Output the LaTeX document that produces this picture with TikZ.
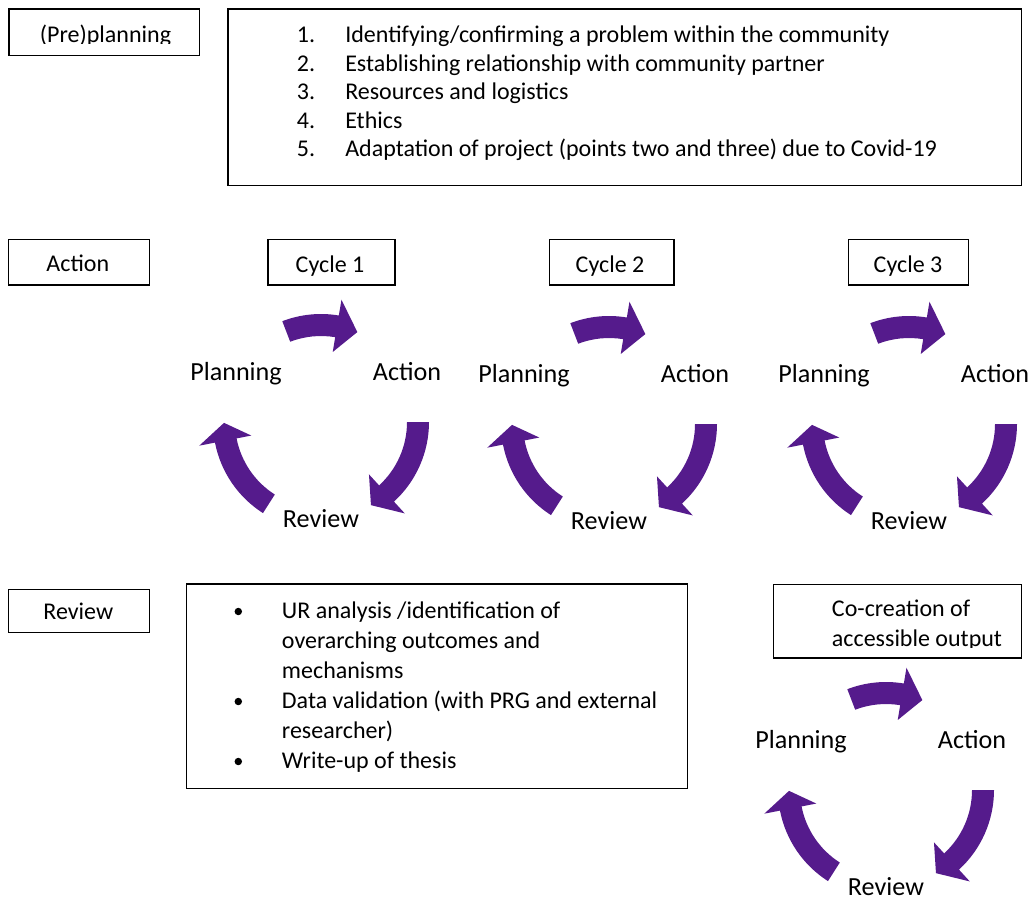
\documentclass[tikz,border=0pt]{standalone}
\usepackage{fontspec}
\setmainfont{Carlito}
\usetikzlibrary{calc}
\definecolor{cycpurple}{RGB}{85,27,140}
\newcommand\boxnode[5]{\node[box,anchor=north west,minimum width={(#4-#2)*0.75pt},minimum height={(#5-#3)*0.75pt}] (#1) at (#2,#3) {};}
\newcommand\cycarrow[4]{%
  \fill[cycfill] ($(#1)+(#2:108)$) arc[start angle=#2,end angle=#3,radius=108]
    -- ($(#1)+(#3:124)$) -- ($(#1)+(#4:97)$) -- ($(#1)+(#3:71)$) -- ($(#1)+(#3:86)$)
    arc[start angle=#3,end angle=#2,radius=86] -- cycle;}
\begin{document}
\begin{tikzpicture}[x=0.75pt,y=-0.75pt,
  box/.style={draw=black,line width=0.9pt,inner sep=0pt,fill=none},
  boxtxt/.style={font=\fontsize{18pt}{21.5pt}\selectfont,inner sep=0pt},
  lbl/.style={font=\fontsize{19.6pt}{23.5pt}\selectfont,inner sep=0pt,anchor=base west},
  bulletdot/.style={circle,fill=black,inner sep=0pt,minimum size=5.6pt},
  cycfill/.style={fill=cycpurple}]
\useasboundingbox (0,0) rectangle (1034,900);

% ---- boxes ----
\boxnode{prebox}{8.3}{8.3}{199}{54.5}
\boxnode{listbox}{227.3}{8.3}{1020.5}{185}
\boxnode{actbox}{8}{239}{148.7}{284.3}
\boxnode{cyc1box}{267.3}{239}{394.3}{284.3}
\boxnode{cyc2box}{548.7}{239}{673.3}{284.3}
\boxnode{cyc3box}{848}{239}{968}{284.3}
\boxnode{revbox}{8}{589}{148.7}{631.7}
\boxnode{bulbox}{186}{583.3}{686.7}{788}
\boxnode{cobox}{772.7}{584}{1020.7}{657.3}

% ---- box texts ----
\begin{scope}
  \clip (0,0) rectangle (220,43.8);
  \node[boxtxt,anchor=base] (pretxt) at (105.5,42.3) {(Pre)planning};
\end{scope}
\node[boxtxt,anchor=base] (acttxt) at (77.8,271.7) {Action};
\node[boxtxt,anchor=base] (cyc1txt) at (330,272.7) {Cycle 1};
\node[boxtxt,anchor=base] (cyc2txt) at (610,272.7) {Cycle 2};
\node[boxtxt,anchor=base] (cyc3txt) at (908,272.7) {Cycle 3};
\node[boxtxt,anchor=base] (revtxt) at (78.3,619) {Review};

% ---- numbered list ----
\foreach \i/\yy/\t in {1/42.5/{Identifying/confirming a problem within the community},
                        2/71/{Establishing relationship with community partner},
                        3/99.5/{Resources and logistics},
                        4/128/{Ethics},
                        5/156.5/{Adaptation of project (points two and three) due to Covid-19}}{
  \node[boxtxt,anchor=base west] (num\i) at (296.7,\yy) {\i.};
  \node[boxtxt,anchor=base west] (item\i) at (345,\yy) {\t};
}

% ---- bullet list ----
\node[bulletdot] (bul1) at (238.3,611.5) {};
\node[bulletdot] (bul2) at (238.3,701.5) {};
\node[bulletdot] (bul3) at (238.3,761.5) {};
\node[boxtxt,anchor=base west] (bl1) at (281.7,618.3) {UR analysis /identification of};
\node[boxtxt,anchor=base west] (bl2) at (281.7,648.3) {overarching outcomes and};
\node[boxtxt,anchor=base west] (bl3) at (281.7,678.3) {mechanisms};
\node[boxtxt,anchor=base west] (bl4) at (281.7,708.3) {Data validation (with PRG and external};
\node[boxtxt,anchor=base west] (bl5) at (281.7,738.3) {researcher)};
\node[boxtxt,anchor=base west] (bl6) at (281.7,768.3) {Write-up of thesis};

% ---- co-creation ----
\node[boxtxt,anchor=base west] (co1) at (831.7,616.7) {Co-creation of};
\begin{scope}
  \clip (780,600) rectangle (1020,647.5);
  \node[boxtxt,anchor=base west] (co2) at (831.7,646) {accessible output};
\end{scope}

% ---- cycles ----
\foreach \n/\cx/\cy in {1/321/422, 2/609/424, 3/909/424, 4/886/790}{
  \coordinate (c\n) at (\cx,\cy);
  \node[lbl] (plan\n) at ($(c\n)+(-131,-41.3)$) {Planning};
  \node[lbl] (act\n) at ($(c\n)+(51.7,-41.3)$) {Action};
  \node[lbl] (rev\n) at ($(c\n)+(-38.3,105.3)$) {Review};
  \cycarrow{c\n}{-111}{-80.5}{-68}
  \cycarrow{c\n}{0}{47.5}{59}
  \cycarrow{c\n}{122.5}{169}{179.5}
}
\end{tikzpicture}
\end{document}
